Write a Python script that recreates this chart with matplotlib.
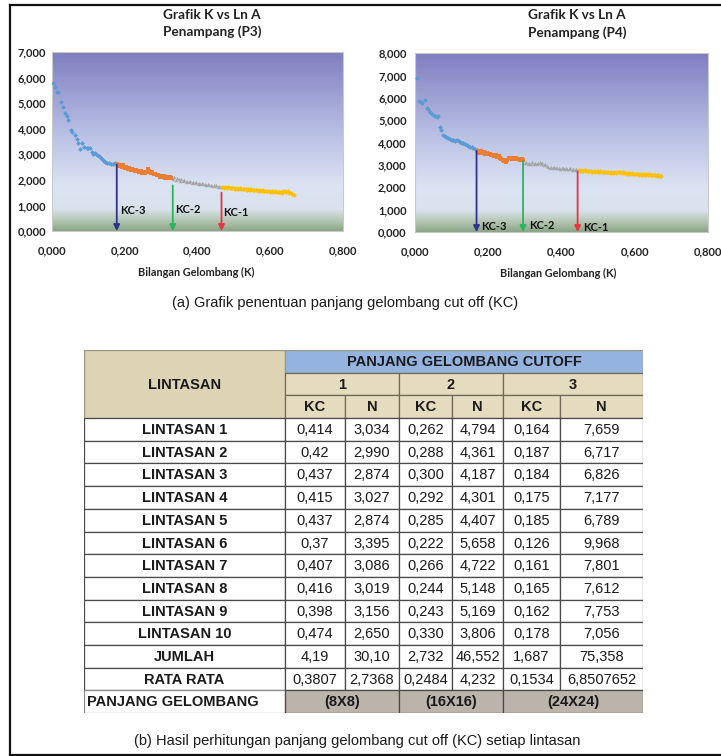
import matplotlib
matplotlib.use('Agg')
import numpy as np
import matplotlib.pyplot as plt
from matplotlib import font_manager
from matplotlib.colors import LinearSegmentedColormap
from matplotlib.ticker import FuncFormatter, MultipleLocator
from matplotlib.lines import Line2D
from matplotlib.patches import Rectangle

# ---------------- DATA ----------------
# Chart P3
p3_blue_x = [0.004,0.009,0.013,0.017,0.024,0.029,0.036,0.041,0.045,0.051,
             0.056,0.063,0.068,0.072,0.077,0.083,0.088,0.095,0.100,0.104,
             0.109,0.113,0.118,0.123,0.128,0.132,0.137,0.142,0.147,0.152,
             0.157,0.162,0.167,0.172,0.177]
p3_blue_y = [5.78,5.62,5.45,5.45,5.06,4.86,4.60,4.48,4.34,3.95,
             3.88,3.75,3.60,3.43,3.19,3.43,3.30,3.23,3.25,3.23,
             3.10,3.01,3.05,2.97,2.92,2.91,2.80,2.74,2.70,2.66,
             2.64,2.63,2.62,2.64,2.63]
p3_orange_x = [0.180,0.184,0.188,0.192,0.196,0.200,0.204,0.208,0.212,0.216,
               0.220,0.224,0.228,0.232,0.236,0.240,0.244,0.248,0.252,0.256,
               0.260,0.264,0.268,0.272,0.276,0.280,0.284,0.288,0.292,0.296,
               0.300,0.304,0.308,0.312,0.316,0.320,0.324,0.328]
p3_orange_y = [2.62,2.55,2.60,2.52,2.57,2.48,2.50,2.44,2.47,2.40,
               2.42,2.38,2.35,2.40,2.33,2.30,2.36,2.28,2.32,2.26,
               2.30,2.42,2.35,2.25,2.30,2.22,2.24,2.18,2.20,2.12,
               2.16,2.10,2.14,2.08,2.12,2.06,2.10,2.08]
p3_gray_x = [0.332,0.336,0.340,0.344,0.348,0.352,0.356,0.360,0.364,0.368,
             0.372,0.376,0.380,0.384,0.388,0.392,0.396,0.400,0.404,0.408,
             0.412,0.416,0.420,0.424,0.428,0.432,0.436,0.440,0.444,0.448,
             0.452,0.456,0.460,0.464]
p3_gray_y = [2.05,2.10,1.98,2.08,2.02,1.95,2.04,1.96,2.00,1.92,
             1.97,1.90,1.94,1.88,1.92,1.86,1.90,1.85,1.88,1.84,
             1.86,1.82,1.85,1.80,1.83,1.78,1.81,1.77,1.79,1.76,
             1.78,1.74,1.76,1.74]
p3_yellow_x = [0.468,0.472,0.476,0.480,0.484,0.488,0.492,0.496,0.500,0.504,
               0.508,0.512,0.516,0.520,0.524,0.528,0.532,0.536,0.540,0.544,
               0.548,0.552,0.556,0.560,0.564,0.568,0.572,0.576,0.580,0.584,
               0.588,0.592,0.596,0.600,0.604,0.608,0.612,0.616,0.620,0.624,
               0.628,0.632,0.636,0.640,0.644,0.648,0.652,0.656,0.660,0.664]
p3_yellow_y = [1.72,1.70,1.72,1.69,1.71,1.68,1.70,1.67,1.69,1.66,
               1.68,1.65,1.67,1.64,1.66,1.63,1.66,1.62,1.64,1.61,
               1.63,1.60,1.62,1.59,1.61,1.58,1.60,1.57,1.59,1.56,
               1.58,1.55,1.57,1.54,1.56,1.53,1.55,1.52,1.54,1.51,
               1.53,1.50,1.56,1.58,1.52,1.55,1.48,1.50,1.44,1.40]
p3_kc = [0.178, 0.332, 0.466]
p3_kc_top = [2.60, 1.78, 1.50]
p3_kc_label_xy = [(0.186, 0.82), (0.338, 0.86), (0.470, 0.74)]

# Chart P4
p4_blue_x = [0.006,0.012,0.016,0.020,0.027,0.032,0.036,0.041,0.045,0.050,
             0.055,0.059,0.063,0.068,0.072,0.077,0.082,0.086,0.091,0.096,
             0.100,0.105,0.110,0.114,0.119,0.123,0.128,0.132,0.137,0.141,
             0.146,0.150,0.155,0.159,0.164,0.168]
p4_blue_y = [6.88,5.86,5.80,5.75,5.88,5.55,5.49,5.38,5.30,5.22,
             5.18,5.13,5.20,4.71,4.55,4.33,4.30,4.25,4.19,4.15,
             4.13,4.11,4.08,4.10,4.06,4.04,4.00,3.97,3.93,3.89,
             3.85,3.80,3.78,3.74,3.70,3.66]
p4_orange_x = [0.172,0.176,0.180,0.184,0.188,0.192,0.196,0.200,0.204,0.208,
               0.212,0.216,0.220,0.224,0.228,0.232,0.236,0.240,0.244,0.248,
               0.252,0.256,0.260,0.264,0.268,0.272,0.276,0.280,0.284,0.288,
               0.292,0.296]
p4_orange_y = [3.62,3.55,3.60,3.52,3.56,3.50,3.53,3.48,3.50,3.44,
               3.46,3.40,3.42,3.36,3.38,3.30,3.28,3.22,3.18,3.15,
               3.20,3.30,3.32,3.28,3.31,3.26,3.30,3.25,3.28,3.22,
               3.26,3.20]
p4_gray_x = [0.300,0.304,0.308,0.312,0.316,0.320,0.324,0.328,0.332,0.336,
             0.340,0.344,0.348,0.352,0.356,0.360,0.364,0.368,0.372,0.376,
             0.380,0.384,0.388,0.392,0.396,0.400,0.404,0.408,0.412,0.416,
             0.420,0.424,0.428,0.432,0.436,0.440,0.444]
p4_gray_y = [3.08,3.12,3.05,3.10,3.04,3.12,3.06,3.10,3.02,3.08,
             3.14,3.05,3.10,3.00,3.04,2.96,2.92,2.88,2.92,2.86,
             2.90,2.84,2.88,2.85,2.82,2.87,2.84,2.80,2.86,2.82,
             2.80,2.84,2.79,2.82,2.78,2.80,2.77]
p4_yellow_x = [0.448,0.452,0.456,0.460,0.464,0.468,0.472,0.476,0.480,0.484,
               0.488,0.492,0.496,0.500,0.504,0.508,0.512,0.516,0.520,0.524,
               0.528,0.532,0.536,0.540,0.544,0.548,0.552,0.556,0.560,0.564,
               0.568,0.572,0.576,0.580,0.584,0.588,0.592,0.596,0.600,0.604,
               0.608,0.612,0.616,0.620,0.624,0.628,0.632,0.636,0.640,0.644,
               0.648,0.652,0.656,0.660,0.664,0.668,0.672]
p4_yellow_y = [2.76,2.74,2.76,2.73,2.75,2.72,2.74,2.71,2.73,2.70,
               2.72,2.70,2.71,2.69,2.71,2.68,2.70,2.67,2.69,2.66,
               2.68,2.65,2.67,2.64,2.66,2.65,2.68,2.66,2.69,2.64,
               2.66,2.62,2.64,2.61,2.63,2.60,2.62,2.58,2.60,2.57,
               2.59,2.56,2.58,2.55,2.57,2.56,2.58,2.55,2.57,2.54,
               2.56,2.53,2.55,2.52,2.54,2.51,2.50]
p4_kc = [0.168, 0.295, 0.444]
p4_kc_top = [3.62, 3.20, 2.72]
p4_kc_label_xy = [(0.180, 0.24), (0.312, 0.28), (0.460, 0.22)]

kc_names = ["KC-3", "KC-2", "KC-1"]

# Table
table_rows = ["LINTASAN 1", "LINTASAN 2", "LINTASAN 3", "LINTASAN 4", "LINTASAN 5",
              "LINTASAN 6", "LINTASAN 7", "LINTASAN 8", "LINTASAN 9", "LINTASAN 10",
              "JUMLAH", "RATA RATA"]
kc1 = ["0,414", "0,42", "0,437", "0,415", "0,437", "0,37", "0,407", "0,416", "0,398", "0,474", "4,19", "0,3807"]
n1 = ["3,034", "2,990", "2,874", "3,027", "2,874", "3,395", "3,086", "3,019", "3,156", "2,650", "30,10", "2,7368"]
kc2 = ["0,262", "0,288", "0,300", "0,292", "0,285", "0,222", "0,266", "0,244", "0,243", "0,330", "2,732", "0,2484"]
n2 = ["4,794", "4,361", "4,187", "4,301", "4,407", "5,658", "4,722", "5,148", "5,169", "3,806", "46,552", "4,232"]
kc3 = ["0,164", "0,187", "0,184", "0,175", "0,185", "0,126", "0,161", "0,165", "0,162", "0,178", "1,687", "0,1534"]
n3 = ["7,659", "6,717", "6,826", "7,177", "6,789", "9,968", "7,801", "7,612", "7,753", "7,056", "75,358", "6,8507652"]
group_names = ["1", "2", "3"]
sub_names = ["KC", "N"]
window_sizes = ["(8X8)", "(16X16)", "(24X24)"]

# ---------------- STYLE ----------------
W, H = 721, 756
available = {f.name for f in font_manager.fontManager.ttflist}
if 'Liberation Sans Narrow' in available:
    NARROW = 'Liberation Sans Narrow'
    tscale = 1.2
else:
    NARROW = 'Liberation Sans'
    tscale = 1.0
CHART_FONT = 'Lato' if 'Lato' in available else 'DejaVu Sans'

def fx(x):
    return x / W

def fy(y):
    return 1 - y / H

fig = plt.figure(figsize=(W / 100, H / 100), dpi=100)
fig.patch.set_facecolor('white')

bg_cmap = LinearSegmentedColormap.from_list(
    'excelbg',
    [(0.0, '#8aa586'), (0.05, '#b0c3ad'), (0.12, '#d9e2ec'), (0.25, '#dce3f3'),
     (0.55, '#b8bfe4'), (1.0, '#7f7ec0')])

series_colors = ['#5b9bd5', '#ed7d31', '#a5a5a5', '#ffc000']
series_markers = ['D', 's', '^', 'D']
kc_colors = ['#2e3192', '#2bb55a', '#e8343f']

fmt = FuncFormatter(lambda v, p: f"{v:.3f}".replace('.', ','))


def draw_chart(rect, segs, kc, kc_top, lab_xy, ymax, ypad, title_lines, title_x, title_y,
               xlabel_x, xlabel_y):
    ax = fig.add_axes(rect)
    grad = np.linspace(0, 1, 256).reshape(-1, 1)
    ax.imshow(grad, cmap=bg_cmap, extent=(0, 1, 0, 1), transform=ax.transAxes,
              aspect='auto', origin='lower', zorder=0)
    for (xs, ys), c, m in zip(segs, series_colors, series_markers):
        ax.scatter(xs, ys, s=6, color=c, marker=m, linewidths=0, zorder=3)
    for x, top, c in zip(kc, kc_top, kc_colors):
        ax.annotate('', xy=(x, 0.0), xytext=(x, top),
                    arrowprops=dict(arrowstyle='-|>', color=c, lw=1.3,
                                    mutation_scale=9, shrinkA=0, shrinkB=0),
                    zorder=4)
    for (lx, ly), name in zip(lab_xy, kc_names):
        ax.text(lx, ly, name, ha='left', va='center', fontsize=8,
                fontweight='bold', family=CHART_FONT, color='#111111', zorder=5)
    ax.set_xlim(0, 0.8)
    ax.set_ylim(0, ymax)
    ax.xaxis.set_major_locator(MultipleLocator(0.2))
    ax.yaxis.set_major_locator(MultipleLocator(1))
    ax.xaxis.set_major_formatter(fmt)
    ax.yaxis.set_major_formatter(fmt)
    ax.tick_params(axis='both', length=0, labelsize=8, colors='#222222')
    ax.tick_params(axis='x', pad=10)
    ax.tick_params(axis='y', pad=ypad)
    for lab in ax.get_xticklabels() + ax.get_yticklabels():
        lab.set_family(CHART_FONT)
        lab.set_fontweight('bold')
    for sp in ax.spines.values():
        sp.set_color('#c9c9c9')
        sp.set_linewidth(0.8)
    for i, t in enumerate(title_lines):
        fig.text(fx(title_x), fy(title_y[i]), t, ha='center', va='center',
                 fontsize=9.8, fontweight='bold', family=CHART_FONT, color='#222222')
    fig.text(fx(xlabel_x), fy(xlabel_y), 'Bilangan Gelombang (K)', ha='center', va='center',
             fontsize=7.9, fontweight='bold', family=CHART_FONT, color='#222222')
    return ax


draw_chart([fx(52), fy(231), 291 / W, 179 / H],
           [(p3_blue_x, p3_blue_y), (p3_orange_x, p3_orange_y),
            (p3_gray_x, p3_gray_y), (p3_yellow_x, p3_yellow_y)],
           p3_kc, p3_kc_top, p3_kc_label_xy, 7, 4,
           ['Grafik K vs Ln A', 'Penampang (P3)'], 212, [15, 32], 196, 272)

draw_chart([fx(415), fy(232), 293 / W, 179 / H],
           [(p4_blue_x, p4_blue_y), (p4_orange_x, p4_orange_y),
            (p4_gray_x, p4_gray_y), (p4_yellow_x, p4_yellow_y)],
           p4_kc, p4_kc_top, p4_kc_label_xy, 8, 6,
           ['Grafik K vs Ln A', 'Penampang (P4)'], 577, [15, 33], 558, 273)

fig.text(fx(345), fy(303), '(a) Grafik penentuan panjang gelombang cut off (KC)',
         ha='center', va='center', fontsize=10.5 * tscale, family=NARROW, color='#1a1a1a')
fig.text(fx(357), fy(741), '(b) Hasil perhitungan panjang gelombang cut off (KC) setiap lintasan',
         ha='center', va='center', fontsize=10.5 * tscale, family=NARROW, color='#1a1a1a')

# ---------------- TABLE ----------------
col_w = [201, 60, 54, 53, 51, 57, 83]
edges = np.concatenate([[0], np.cumsum(col_w)])
n_rows = 3 + len(table_rows) + 1
tax = fig.add_axes([fx(84), fy(713), edges[-1] / W, (713 - 350) / H])
tax.set_xlim(0, edges[-1])
tax.set_ylim(n_rows, 0)
tax.axis('off')

TAN = '#ddd4b6'
TAN2 = '#e5dcbf'
BLUE = '#95b3df'
GREY = '#bbb4ab'
HLINE = '#6e6858'
BLINE = '#4a4a4a'
FS = 10.5 * tscale


def cell(c0, c1, r0, r1, fc, text, weight='normal', ha='center', ec=BLINE, lw=0.9):
    x0, x1 = edges[c0], edges[c1]
    tax.add_patch(Rectangle((x0, r0), x1 - x0, r1 - r0, facecolor=fc,
                            edgecolor=ec, linewidth=lw))
    if ha == 'center':
        tx = (x0 + x1) / 2
    else:
        tx = x0 + 3
    tax.text(tx, (r0 + r1) / 2 + 0.03, text, ha=ha, va='center', fontsize=FS,
             fontweight=weight, family=NARROW, color='#1a1a1a')


# header
cell(0, 1, 0, 3, TAN, 'LINTASAN', 'bold', ec='#9a9486')
cell(1, 7, 0, 1, BLUE, 'PANJANG GELOMBANG CUTOFF', 'bold', ec='#9a9486')
for g, name in enumerate(group_names):
    cell(1 + 2 * g, 3 + 2 * g, 1, 2, TAN2, name, 'bold', ec=HLINE)
    for s, sname in enumerate(sub_names):
        cell(1 + 2 * g + s, 2 + 2 * g + s, 2, 3, TAN2, sname, 'bold', ec=HLINE)

# body
cols = [kc1, n1, kc2, n2, kc3, n3]
for i, lab in enumerate(table_rows):
    r = 3 + i
    cell(0, 1, r, r + 1, 'white', lab, 'bold')
    for j, col in enumerate(cols):
        cell(1 + j, 2 + j, r, r + 1, 'white', col[i])

# last row
r = n_rows - 1
cell(0, 1, r, r + 1, 'white', 'PANJANG GELOMBANG', 'bold', ha='left', ec='#8a8a8a')
for g, name in enumerate(window_sizes):
    cell(1 + 2 * g, 3 + 2 * g, r, r + 1, GREY, name, 'bold')

# ---------------- FRAME ----------------
for xs, ys in [([10, 10], [5, 755]), ([10, 721], [5, 5]), ([10, 721], [755, 755])]:
    fig.add_artist(Line2D([fx(v) for v in xs], [fy(v) for v in ys],
                          transform=fig.transFigure, color='#111111', lw=1.6, zorder=10))

fig.savefig('out.png', dpi=100, facecolor='white')
